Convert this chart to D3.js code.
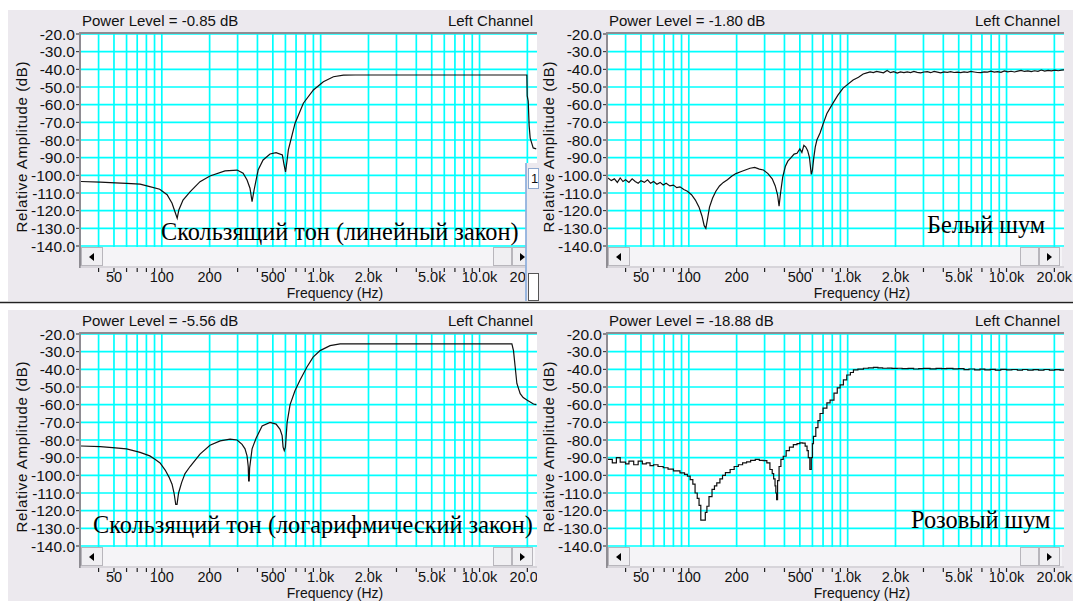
<!DOCTYPE html>
<html><head><meta charset="utf-8">
<script src="https://cdn.jsdelivr.net/npm/d3@7"></script>
<style>body{margin:0;background:#fff;} svg{display:block}</style>
</head><body>
<svg id="c" width="1073" height="601"></svg>
<script>
// ---------- data ----------
const yTicks = [-20,-30,-40,-50,-60,-70,-80,-90,-100,-110,-120,-130,-140];
const xLabelFreqs = [50,100,200,500,1000,2000,5000,10000,20000];
const xLabels = ["50","100","200","500","1.0k","2.0k","5.0k","10.0k","20.0k"];
const gridFreqs = [40,50,60,70,80,90,100,200,300,400,500,600,700,800,900,1000,2000,3000,4000,5000,6000,7000,8000,9000,10000,20000];
const powerLevels = ["-0.85","-1.80","-5.56","-18.88"];
const captions = ["Скользящий тон (линейный закон)","Белый шум","Скользящий тон (логарифмический закон)","Розовый шум"];

const sweepLinear = [[31,-103.5],[41,-103.9],[51,-104.3],[60,-104.5],[73,-105],[84,-106.4],[97,-107.9],[108,-111],[116,-115.8],[121,-120.6],[125,-124.3],[128,-119.6],[136,-114],[151,-109.2],[174,-103.6],[201,-100.4],[250,-97.5],[298,-97],[325,-98.8],[344,-102.6],[359,-107.3],[370,-114.9],[381,-108.3],[404,-97],[434,-91.3],[480,-87.9],[524,-87.2],[574,-88.5],[588,-94],[601,-98],[615,-91.3],[626,-85.6],[690,-70.5],[778,-59.2],[900,-51.7],[1040,-47],[1203,-44.2],[1391,-43.3],[1648,-43.2],[19860,-43.2],[19958,-55],[20250,-58],[20530,-72],[20840,-79],[21770,-84.5],[22740,-85]];

const whiteNoise = [[31,-101.5],[32.5,-103],[34,-102],[35.5,-104],[37,-101.5],[38.5,-103.5],[40,-102.5],[42,-104],[44,-102],[46,-103.5],[48,-104.5],[50,-103],[52.5,-104],[55,-102.5],[57.5,-104.5],[60,-103.5],[63,-105],[66,-104],[69,-105.5],[72,-104.5],[76,-106],[80,-105.5],[84,-107],[88,-106.5],[93,-108],[98,-109],[104,-111],[110,-114],[116,-118],[121,-123],[125,-128.5],[128,-130],[131,-125],[135,-118],[141,-113],[148,-109],[156,-106],[165,-104],[175,-102.5],[186,-100.5],[198,-99],[212,-98],[227,-97],[243,-96],[260,-95.5],[278,-96.5],[295,-97],[315,-99],[335,-102],[350,-106],[362,-111],[370,-117.5],[378,-110],[390,-101],[405,-95],[420,-92],[440,-90],[460,-88],[480,-87.5],[500,-85],[515,-87],[530,-83],[545,-84],[560,-86],[575,-90],[590,-99.5],[600,-97],[612,-90],[625,-84],[640,-80],[670,-76],[700,-71],[740,-65],[810,-59],[870,-54.5],[936,-50.6],[1000,-48.5],[1082,-46],[1170,-44.5],[1252,-42.6],[1320,-42],[1385,-41.5],[1450,-41.8],[1520,-41.2],[1600,-41.6],[1680,-42.0],[1771,-40.6],[1860,-41.9],[1950,-41.3],[2050,-42.1],[2150,-41.5],[2260,-41.9],[2370,-41.4],[2490,-41.8],[2610,-41.2],[2740,-41.7],[2880,-42.0],[3020,-41.5],[3170,-41.3],[3330,-41.9],[3500,-41.2],[3670,-41.6],[3850,-42.0],[4040,-41.4],[4240,-41.7],[4450,-41.3],[4670,-41.8],[4900,-41.6],[5150,-41.9],[5400,-41.4],[5670,-41.7],[5950,-41.2],[6250,-41.5],[6560,-41.8],[6890,-41.9],[7230,-41.4],[7590,-41.6],[7970,-41.0],[8370,-41.6],[8790,-41.3],[9230,-41.7],[9690,-40.9],[10170,-41.4],[10680,-41.1],[11210,-41.5],[11770,-41.0],[12360,-40.6],[12980,-41.2],[13630,-40.9],[14310,-41.3],[15020,-40.8],[15770,-41.1],[16560,-40.4],[17390,-41.0],[18260,-40.6],[19170,-40.9],[20130,-40.5],[21140,-40.8],[22200,-40.4],[23000,-40.3]];

const sweepLog = [[31,-83.4],[41,-83.8],[51,-84.5],[60,-85],[73,-87],[84,-89],[91,-91],[97.5,-93],[105,-97],[111,-101],[116,-105],[119.4,-110],[122.4,-116.4],[124.7,-116.4],[127.5,-110],[133.4,-104],[140,-99],[150.6,-95],[174,-88],[201,-83],[233,-80.5],[269,-79.5],[298,-80],[320,-82.5],[334,-85],[344,-89],[350,-95],[352,-103.2],[355,-103.2],[357,-96],[370,-85],[392,-79],[428,-72],[480,-70],[524,-71],[555,-74],[572,-77.5],[580,-84],[590,-86],[600,-84],[615,-70],[642,-60],[690,-52],[742,-46],[818,-38.8],[896,-33.1],[992,-29.4],[1146,-26.6],[1325,-25.6],[15980,-25.6],[16360,-29.4],[16770,-38.8],[17180,-48],[18030,-53.8],[18830,-56],[19860,-57.4],[21860,-59.6],[22740,-60]];

const pinkNoise = [[31,-91],[33,-93],[35,-90],[37,-92.5],[40,-93.5],[42,-92],[45,-94],[48,-92],[51,-93.5],[54,-93],[57,-94.5],[60,-94],[64,-95],[69,-95.7],[74,-96.5],[80,-97.5],[88,-98.6],[94,-99.5],[98,-100.5],[102,-102.4],[106,-105],[109.5,-110],[113,-113],[116,-117],[119,-125.3],[127,-121],[130,-117.5],[134,-112],[140,-108],[145,-106],[150,-104.3],[157,-102],[163,-100],[170,-98.5],[182,-96.7],[193,-95],[205,-94],[218,-93],[231,-92.4],[245,-91.5],[262,-91],[278,-91.5],[294,-91.7],[310,-93],[324,-96.7],[335,-99],[342,-102],[349,-106],[353,-110],[357,-113.7],[362,-103],[370,-95],[380,-91],[393,-89.2],[410,-86],[430,-84],[455,-82.6],[480,-82],[500,-81.6],[520,-81.8],[540,-83.5],[555,-86],[565,-90],[578,-96.7],[590,-90],[600,-82],[609,-78],[630,-73],[650,-69],[670,-65],[700,-62],[740,-59],[775,-57.4],[820,-53.5],[860,-50.5],[896,-48.8],[940,-46],[987,-43.2],[1040,-41.8],[1087,-40.3],[1160,-39.9],[1257,-39.4],[1350,-39.2],[1453,-38.9],[1550,-39.2],[1660,-39.4],[1780,-39.3],[1900,-39.5],[2050,-39.4],[2200,-39.6],[2400,-39.5],[2600,-39.8],[2800,-39.6],[3000,-39.5],[3300,-39.7],[3600,-39.5],[3900,-39.6],[4200,-39.5],[4600,-39.7],[5000,-39.6],[5400,-40.2],[5800,-39.8],[6300,-40.3],[6800,-39.9],[7300,-40.3],[7900,-40.0],[8500,-40.4],[9200,-40.0],[10000,-40.3],[10800,-40.1],[11700,-40.5],[12600,-40.1],[13600,-40.4],[14700,-40.2],[15900,-40.5],[17200,-40.1],[18600,-40.4],[20100,-40.2],[21700,-40.4],[23000,-40.3]];

// ---------- drawing ----------
const svg = d3.select('#c');
const BG = '#ECE9EE', GRID = '#00FFFF', FONT = 'Liberation Sans, Arial, sans-serif';
const SERIF = 'Liberation Serif, Times New Roman, serif';

const panels = [
  {id:0, ox:0,   oy:0,   bgX:8,  bgW:529, data:sweepLinear, curve:d3.curveLinear,   cap:[161,240]},
  {id:1, ox:527, oy:0,   bgX:10, bgW:546, data:whiteNoise,  curve:d3.curveLinear,   cap:[400,233]},
  {id:2, ox:0,   oy:300, bgX:8,  bgW:529, data:sweepLog,    curve:d3.curveLinear,   cap:[93,233]},
  {id:3, ox:527, oy:300, bgX:10, bgW:546, data:pinkNoise,   curve:d3.curveStepAfter,cap:[384,228]}
];

const x = d3.scaleLog().domain([31,23000]).range([81,537]);
const y = d3.scaleLinear().domain([-20,-140]).range([34,246]);

function drawPanel(p){
  const g = svg.append('g').attr('transform',`translate(${p.ox},${p.oy})`);
  g.append('rect').attr('x',p.bgX).attr('y',10).attr('width',p.bgW).attr('height',291).attr('fill',BG);
  // header
  g.append('text').attr('x',82).attr('y',26).attr('font-family',FONT).attr('font-size',15).attr('fill','#111')
    .text(`Power Level = ${powerLevels[p.id]} dB`);
  g.append('text').attr('x',533).attr('y',26).attr('text-anchor','end').attr('font-family',FONT).attr('font-size',15).attr('fill','#111')
    .text('Left Channel');
  // plot area
  g.append('rect').attr('x',81).attr('y',33).attr('width',456).attr('height',214).attr('fill','#fff');
  const cid = 'clip'+p.id;
  g.append('clipPath').attr('id',cid).append('rect').attr('x',81).attr('y',33).attr('width',456).attr('height',214);
  const pg = g.append('g').attr('clip-path',`url(#${cid})`);
  pg.selectAll('line.vg').data(gridFreqs).join('line').attr('class','vg')
    .attr('x1',d=>x(d)).attr('x2',d=>x(d)).attr('y1',33).attr('y2',247)
    .attr('stroke',GRID).attr('stroke-width',1.7);
  pg.selectAll('line.hg').data(yTicks).join('line').attr('class','hg')
    .attr('x1',81).attr('x2',537).attr('y1',d=>y(d)).attr('y2',d=>y(d))
    .attr('stroke',GRID).attr('stroke-width',1.7);
  const line = d3.line().x(d=>x(d[0])).y(d=>y(d[1])).curve(p.curve);
  pg.append('path').datum(p.data).attr('d',line).attr('fill','none').attr('stroke','#111').attr('stroke-width',1.2);
  // caption
  g.append('text').attr('x',p.cap[0]).attr('y',p.cap[1]).attr('font-family',SERIF)
    .attr('font-size',24.3).attr('fill','#000').text(captions[p.id]);
  // scrollbar
  g.append('rect').attr('x',81).attr('y',247).attr('width',454).attr('height',19).attr('fill','#F5F4F7');
  const btn = (bx,w)=>g.append('rect').attr('x',bx+0.5).attr('y',247.5).attr('width',w-1).attr('height',18).attr('fill','#F0EFF2').attr('stroke','#B8B6BC');
  btn(81,22); btn(493,19); btn(512,21);
  g.append('path').attr('d','M89,257 L94,253 L94,261 Z').attr('fill','#000');
  g.append('path').attr('d','M525,257 L520,253 L520,261 Z').attr('fill','#000');
  // borders
  g.append('line').attr('x1',80).attr('x2',537).attr('y1',33).attr('y2',33).attr('stroke','#8E8C92').attr('stroke-width',2);
  g.append('line').attr('x1',80).attr('x2',80).attr('y1',32).attr('y2',268).attr('stroke','#8E8C92').attr('stroke-width',2);
  g.append('line').attr('x1',80).attr('x2',537).attr('y1',267).attr('y2',267).attr('stroke','#C2C0C6').attr('stroke-width',1);
  // x ticks
  g.selectAll('line.xt').data(gridFreqs).join('line').attr('class','xt')
    .attr('x1',d=>x(d)).attr('x2',d=>x(d)).attr('y1',268).attr('y2',272).attr('stroke','#222').attr('stroke-width',1.2);
  g.selectAll('text.xl').data(xLabelFreqs).join('text').attr('class','xl')
    .attr('x',d=>x(d)).attr('y',282.3).attr('text-anchor','middle').attr('font-family',FONT).attr('font-size',14.5).attr('fill','#111')
    .text((d,i)=>xLabels[i]);
  g.append('text').attr('x',335).attr('y',298.2).attr('text-anchor','middle').attr('font-family',FONT).attr('font-size',14).attr('fill','#111')
    .text('Frequency (Hz)');
  // y ticks
  g.selectAll('line.yt').data(yTicks).join('line').attr('class','yt')
    .attr('x1',76).attr('x2',79).attr('y1',d=>y(d)).attr('y2',d=>y(d)).attr('stroke','#222');
  g.selectAll('text.yl').data(yTicks).join('text').attr('class','yl')
    .attr('x',75).attr('y',d=>y(d)+5.5).attr('text-anchor','end').attr('font-family',FONT).attr('font-size',15.5).attr('fill','#111')
    .text(d=>d.toFixed(1));
  g.append('text').attr('transform','translate(27,147) rotate(-90)').attr('text-anchor','middle')
    .attr('font-family',FONT).attr('font-size',15).attr('fill','#111')
    .attr('textLength',171).attr('lengthAdjust','spacing').text('Relative Amplitude (dB)');
}

panels.forEach(drawPanel);
// overlapping window fragment (top-left panel, right side)
svg.append('rect').attr('x',525.5).attr('y',163).attr('width',11.5).attr('height',138).attr('fill',BG);
svg.append('line').attr('x1',526).attr('x2',526).attr('y1',163).attr('y2',301).attr('stroke','#7FA6DA').attr('stroke-width',1.5);
svg.append('rect').attr('x',528.5).attr('y',168.5).attr('width',10).attr('height',20).attr('fill','#fff').attr('stroke','#8FA9CF');
svg.append('text').attr('x',531).attr('y',183).attr('font-family',FONT).attr('font-size',13).attr('fill','#111').text('1');
svg.append('rect').attr('x',528.5).attr('y',273.5).attr('width',10).attr('height',27).attr('fill','#fff').attr('stroke','#555');
// separator between rows
svg.append('line').attr('x1',0).attr('x2',1073).attr('y1',302.5).attr('y2',302.5).attr('stroke','#222').attr('stroke-width',1.6);
</script>
</body></html>
